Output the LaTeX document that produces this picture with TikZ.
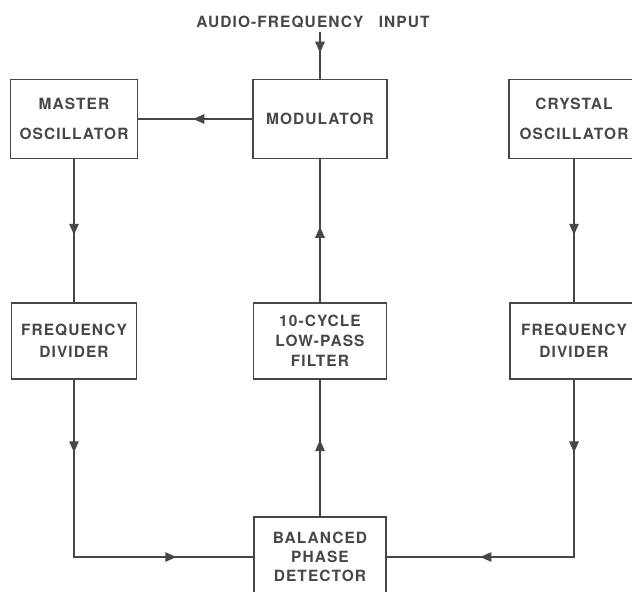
\documentclass[tikz,border=0pt]{standalone}
\usepackage{fontspec}
\setmainfont{TeX Gyre Heros}
\newfontfamily\letfont[LetterSpace=7]{TeX Gyre Heros}
\usetikzlibrary{arrows.meta,decorations.markings}
\definecolor{inkCol}{HTML}{474747}
\tikzset{
  blk/.style n args={2}{draw=inkCol, line width=1.2pt, align=center, text=inkCol,
        font=\letfont\fontsize{11}{15}\selectfont\bfseries, inner sep=0pt,
        minimum width=#1, minimum height=#2},
  lbl/.style={text=inkCol, font=\letfont\fontsize{11}{15}\selectfont\bfseries, inner sep=1pt},
  link/.style={draw=inkCol, line width=1.5pt},
  flowa/.style={link, postaction={decorate}, decoration={markings,
        mark=at position #1 with {\arrow[color=inkCol]{Triangle[length=8pt,width=6.5pt]}}}},
  flowb/.style 2 args={link, postaction={decorate}, decoration={markings,
        mark=at position #1 with {\arrow[color=inkCol]{Triangle[length=8pt,width=6.5pt]}},
        mark=at position #2 with {\arrow[color=inkCol]{Triangle[length=8pt,width=6.5pt]}}}},
}
\begin{document}
\begin{tikzpicture}[x=0.025cm, y=-0.025cm]
  \useasboundingbox (0,0) rectangle (632,592);
  % top row
  \node[lbl] (aud) at (313,22) {AUDIO-FREQUENCY\quad INPUT};
  \coordinate (inp) at (320,32);
  \node[blk={3.18cm}{1.98cm}] (mast) at (74,119) {MASTER\\[6pt]OSCILLATOR};
  \node[blk={3.35cm}{1.98cm}] (mod)  at (320,119) {MODULATOR};
  \node[blk={3.25cm}{1.98cm}] (xtal) at (574,119) {CRYSTAL\\[6pt]OSCILLATOR};
  % middle row
  \node[blk={3.13cm}{1.9cm}] (divl) at (74,341) {FREQUENCY\\[0.6pt]DIVIDER};
  \node[blk={3.33cm}{1.9cm}] (filt) at (320,341) {10-CYCLE\\[-0.8pt]LOW-PASS\\[-0.8pt]FILTER};
  \node[blk={3.2cm}{1.9cm}]  (divr) at (574,341) {FREQUENCY\\[0.6pt]DIVIDER};
  % bottom
  \node[blk={3.3cm}{2cm}] (det) at (320,557) {BALANCED\\[-1.5pt]PHASE\\[-1.5pt]DETECTOR};
  % connectors
  \draw[flowa=0.45] (inp) -- (mod);
  \draw[flowa=0.52] (mod) -- (mast);
  \draw[flowa=0.53] (mast) -- (divl);
  \draw[flowa=0.53] (xtal) -- (divr);
  \draw[flowb={0.204}{0.785}] (divl) |- (det);
  \draw[flowb={0.2}{0.744}] (divr) |- (det);
  \draw[flowa=0.56] (det) -- (filt);
  \draw[flowa=0.53] (filt) -- (mod);
\end{tikzpicture}
\end{document}
